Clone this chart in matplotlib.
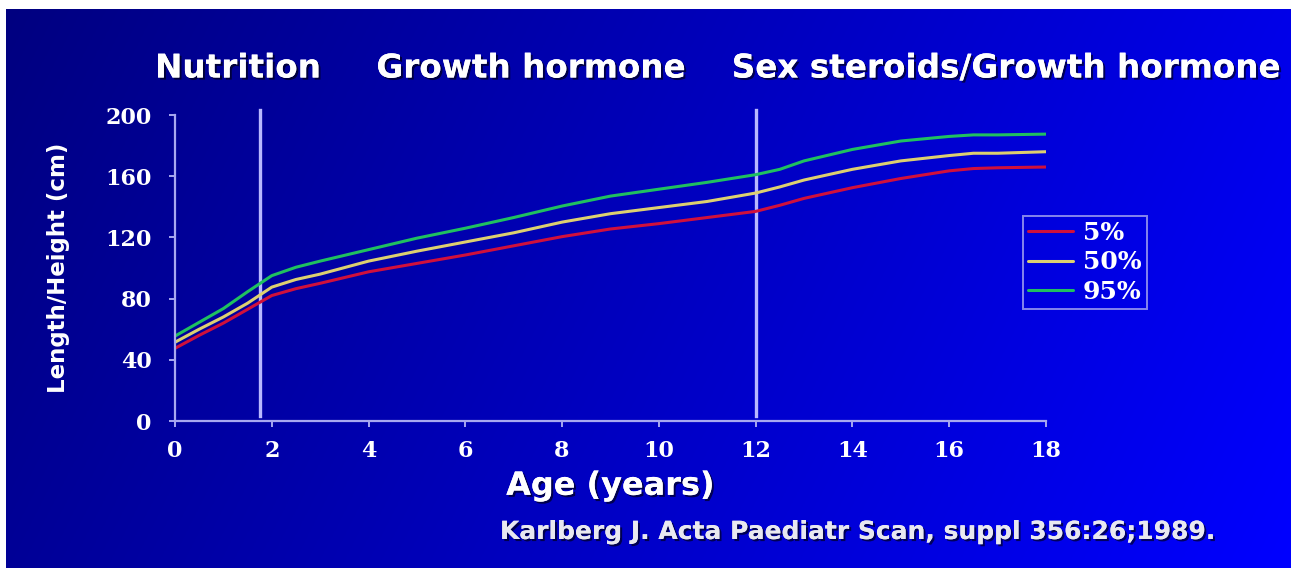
import numpy as np
import matplotlib
matplotlib.use("Agg")
import matplotlib.pyplot as plt
import matplotlib.patheffects as pe

# Growth reference curves
ages = [0, 0.5, 1, 1.5, 2, 2.5, 3, 4, 5, 6, 7, 8, 9, 10, 11, 12, 12.5, 13, 14, 15, 16, 16.5, 17, 18]
p5 = [47.5, 56, 64, 73, 82, 86.5, 90, 97.5, 103, 108.5, 114.5, 120.5, 125.5, 129, 133, 137, 141,
      145.5, 152.5, 158.5, 163.5, 165, 165.5, 166]
p50 = [51.5, 60, 68, 77, 87.5, 92.5, 96, 104.5, 111, 117, 123, 130, 135.5, 139.5, 143.5, 149, 153,
       157.5, 164.5, 170, 173.5, 175, 175, 176]
p95 = [55.5, 64.5, 73.5, 84.5, 95, 100.5, 104.5, 112, 119.5, 126, 133, 140.5, 147, 151.5, 156, 161,
       164.5, 170, 177.5, 183, 186, 187, 187, 187.5]
labels = ["5%", "50%", "95%"]
colors = ["#d0103c", "#ddd070", "#20c060"]
phase_lines = [1.75, 12]
phase_names = ["Nutrition", "Growth hormone", "Sex steroids/Growth hormone"]
phase_x = [238, 531, 1006]  # pixel centres of the headings

W, H = 1296, 568
fig = plt.figure(figsize=(W / 100, H / 100), dpi=100)
fig.patch.set_facecolor("white")

# blue gradient panel
bg = fig.add_axes([6 / W, 0, (1291 - 6) / W, (H - 9) / H])
u = np.linspace(0, 1, 400)[None, :]
v = np.linspace(0, 1, 200)[:, None]
t = 0.82 * u + 0.18 * v
grad = np.zeros((200, 400, 3))
grad[..., 2] = (128 + 127 * t) / 255
bg.imshow(grad, aspect="auto", extent=[0, 1, 1, 0])
bg.set_axis_off()

ax = fig.add_axes([175 / W, 1 - 421 / H, (1046 - 175) / W, (421 - 115) / H])
ax.set_facecolor("none")
spine_col = "#a8a8f0"

for vals, lab, c in zip([p5, p50, p95], labels, colors):
    ax.plot(ages, vals, color=c, lw=2.2, label=lab, solid_capstyle="round")

for xv in phase_lines:
    ax.plot([xv, xv], [3, 203], color="#b8b8ff", lw=2.4, clip_on=False, zorder=1)

ax.set_xlim(0, 18)
ax.set_ylim(0, 200)
ax.set_xticks(range(0, 19, 2))
ax.set_yticks(range(0, 201, 40))
for s in ["top", "right"]:
    ax.spines[s].set_visible(False)
for s in ["left", "bottom"]:
    ax.spines[s].set_color(spine_col)
    ax.spines[s].set_linewidth(1.6)
ax.tick_params(colors=spine_col, width=1.4, length=4)
ax.tick_params(axis="y", pad=13)
ax.tick_params(axis="x", pad=10)
for lbl in ax.get_xticklabels() + ax.get_yticklabels():
    lbl.set_fontfamily("DejaVu Serif")
    lbl.set_fontweight("bold")
    lbl.set_fontsize(16)
    lbl.set_color("white")

shadow = [pe.withSimplePatchShadow(offset=(1.5, -1.5), shadow_rgbFace="black", alpha=0.6), pe.Normal()]

ax.set_ylabel("Length/Height (cm)", fontsize=16.5, fontweight="bold", color="white",
              family="DejaVu Sans", labelpad=25)
ax.set_xlabel("Age (years)", fontsize=23, fontweight="bold", color="white",
              family="DejaVu Sans", labelpad=6, path_effects=shadow)

for name, px in zip(phase_names, phase_x):
    fig.text(px / W, 1 - 68 / H, name, ha="center", va="center", fontsize=23.5,
             fontweight="bold", color="white", family="DejaVu Sans", path_effects=shadow)

fig.text(858 / W, 1 - 532 / H, "Karlberg J. Acta Paediatr Scan, suppl 356:26;1989.",
         ha="center", va="center", fontsize=18, fontweight="bold", color="#e8e8f0",
         family="DejaVu Sans", path_effects=shadow)

leg = ax.legend(loc="upper left", bbox_to_anchor=(1023 / W, 1 - 216 / H), bbox_transform=fig.transFigure,
                borderaxespad=0, frameon=True, fancybox=False, handlelength=1.8, handletextpad=0.4,
                labelspacing=0.22, borderpad=0.2,
                prop={"family": "DejaVu Serif", "weight": "bold", "size": 18})
leg.get_frame().set_facecolor("none")
leg.get_frame().set_edgecolor(spine_col)
leg.get_frame().set_linewidth(1.4)
for txt in leg.get_texts():
    txt.set_color("white")

fig.savefig("out.png", dpi=100)
